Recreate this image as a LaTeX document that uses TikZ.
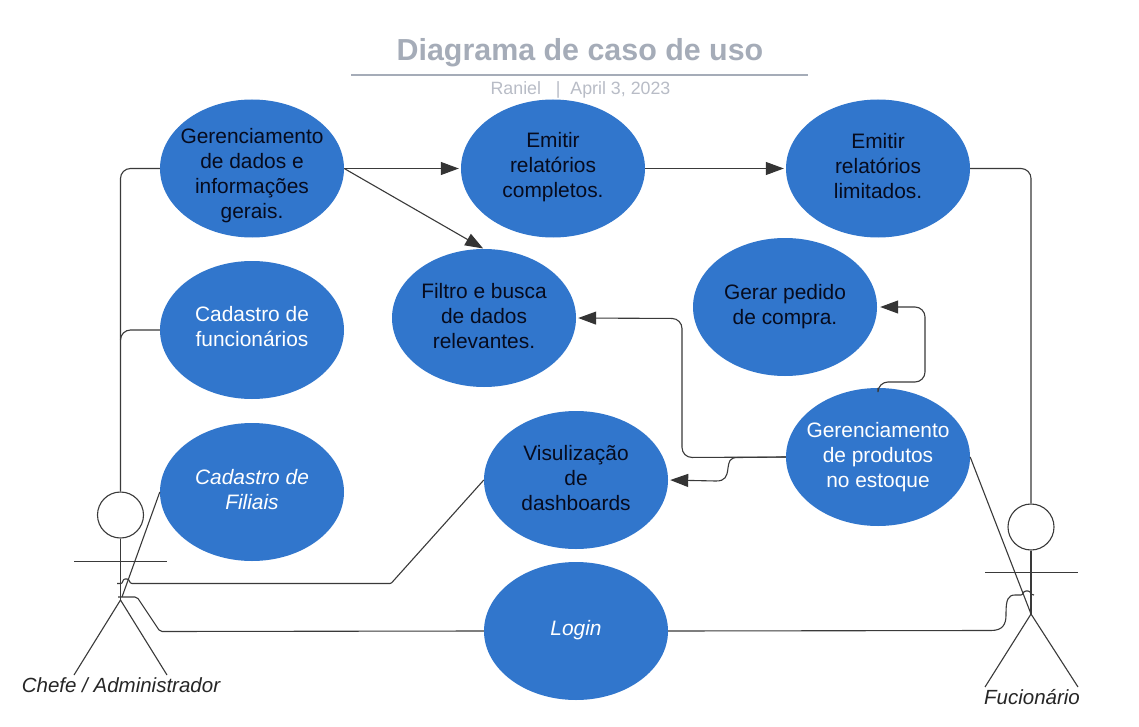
\documentclass[tikz,border=0pt]{standalone}
\usepackage{fontspec}
\setmainfont{Liberation Sans}
\usetikzlibrary{arrows.meta,calc,shapes.geometric}
\definecolor{ucblue}{HTML}{3176CC}
\definecolor{ink}{HTML}{3A3A3A}
\definecolor{titlegray}{HTML}{A5ACB8}
\definecolor{subgray}{HTML}{B8BCC6}
\definecolor{darktext}{HTML}{060B1E}
% text of a use case, moved down by #1, taking no room in its ellipse
\newcommand{\uctext}[2]{\raisebox{\dimexpr-5.2pt-#1\relax}[0pt][0pt]{\makebox[0pt]{\begin{tabular}{@{}c@{}}#2\end{tabular}}}}
\tikzset{
  usecase/.style={ellipse,fill=ucblue,draw=none,minimum width=184pt,minimum height=138pt,inner sep=0pt,
    font=\fontsize{20.9pt}{25pt}\selectfont},
  dark/.style={usecase,text=darktext},
  light/.style={usecase,text=white},
  conn/.style={draw=ink,line width=1.1pt,rounded corners=10pt},
  arrowconn/.style={conn,-{Triangle[length=18pt,width=13pt,color=ink!90!black]},shorten >=2pt},
  figure/.style={draw=ink,line width=1.1pt},
  head/.style={circle,draw=ink,line width=1.1pt,minimum size=46pt,inner sep=0pt},
  actorname/.style={font=\fontsize{20.5pt}{24pt}\selectfont\itshape,text=black!85},
}
\begin{document}
\begin{tikzpicture}[x=1pt,y=-1pt]
\useasboundingbox (0,0) rectangle (1139,727);
\fill[white] (0,0) rectangle (1139,727);
% title
\node[font=\fontsize{30.4pt}{34pt}\selectfont\bfseries,text=titlegray] (title) at (580,53) {Diagrama de caso de uso};
\coordinate (ruleL) at (351,75);
\coordinate (ruleR) at (808,75);
\draw[titlegray,line width=2pt] (ruleL) -- (ruleR);
\node[font=\fontsize{17.8pt}{20pt}\selectfont,text=subgray] (sub) at (580.5,90) {Raniel \ \ |\ \ April 3, 2023};
% use cases
\node[dark]  (A) at (252,168.5) {\uctext{7pt}{Gerenciamento\\de dados e\\informações\\gerais.}};
\node[dark]  (B) at (553,168.5) {\uctext{-1pt}{Emitir\\relatórios\\completos.}};
\node[dark]  (C) at (878,168.5) {\uctext{0pt}{Emitir\\relatórios\\limitados.}};
\node[light] (D) at (252,330) {\uctext{-1pt}{Cadastro de\\funcionários}};
\node[light,font=\fontsize{20.9pt}{25pt}\selectfont\itshape] (E) at (252,492) {\uctext{0pt}{Cadastro de\\Filiais}};
\node[dark]  (F) at (484,318) {\uctext{0pt}{Filtro e busca\\de dados\\relevantes.}};
\node[dark]  (G) at (785,307) {\uctext{0pt}{Gerar pedido\\de compra.}};
\node[light] (H) at (878,457) {\uctext{0pt}{Gerenciamento\\de produtos\\no estoque}};
\node[dark]  (I) at (576,480) {\uctext{0pt}{Visulização\\de\\dashboards}};
\node[light,font=\fontsize{20.9pt}{25pt}\selectfont\itshape] (J) at (576,631) {\uctext{-1pt}{Login}};
% left actor
\node[head] (LH) at (120.5,515) {};
\coordinate (Lhip) at (120.5,600);
\coordinate (LarmL) at (74,561.5);
\coordinate (LarmR) at (167,561.5);
\coordinate (LlegL) at (74,675);
\coordinate (LlegR) at (167,675);
\draw[figure] (LH.south) -- (Lhip);
\draw[figure] (LarmL) -- (LarmR);
\draw[figure] (LlegL) -- (Lhip) -- (LlegR);
\node[actorname] (Lname) at (121,685) {Chefe / Administrador};
% right actor
\node[head] (RH) at (1031,527) {};
\coordinate (Rhip) at (1031,614);
\coordinate (RarmL) at (985,572.5);
\coordinate (RarmR) at (1078,572.5);
\coordinate (RlegL) at (985,687);
\coordinate (RlegR) at (1078,687);
\draw[figure] (RH.south) -- (Rhip);
\draw[figure] (RarmL) -- (RarmR);
\draw[figure] (RlegL) -- (Rhip) -- (RlegR);
\node[actorname] (Rname) at (1032,697) {Fucionário};
% connectors to actors
\draw[conn] (A.west) -- (LH.north |- A.west) -- (LH.north);
\draw[conn] (D.west) -- (LH.north |- D.west) -- ([yshift=-10pt]LH.north |- D.west) ;
\coordinate (Ebody) at (122,597);
\draw[conn] (E.west) -- (Ebody);
\coordinate (Ihop) at (133,583.5);
\coordinate (Iend) at (117,583.5);
\draw[conn,rounded corners=1pt] (I.west) -- (391,583.5) -- (Ihop)
   .. controls (129,583.5) and (130,579) .. (126,579)
   .. controls (122.5,579) and (123,583.5) .. (120,583.5) -- (Iend);
\coordinate (Jend) at (118,597);
\draw[conn,rounded corners=2pt] (J.west) -- (160,631.5) -- (137,597) -- (Jend);
\coordinate (Jrend) at (1034,595);
\draw[conn,rounded corners=1pt] (J.east) -- (990,630.5)
   .. controls (1003,630.5) and (1006,624) .. (1006,614)
   .. controls (1006,600) and (1008,595) .. (1016,595)
   -- (1020,595) .. controls (1023,595) and (1023,591) .. (1027,591)
   .. controls (1031,591) and (1030,595) .. (Jrend);
\draw[conn] (H.east) -- (Rhip);
\draw[conn] (C.east) -- (RH.north |- C.east) -- (RH.north);
% arrows between use cases
\draw[arrowconn] (A.east) -- (B.west);
\draw[arrowconn,shorten >=1pt] (A.east) -- ($(F.center)+(0,-69)$);
\draw[arrowconn] (B.east) -- (C.west);
\coordinate (Hg) at (925,382);
\draw[arrowconn,shorten >=3pt] (H.north) -- (878,382) -- (Hg) -- (925,307) -- (G.east);
\draw[arrowconn] (H.west) -- (682,457.5) -- (682,318.5) -- (F.east);
\draw[draw=ink,line width=1.1pt,-{Triangle[length=18pt,width=13pt,color=ink!90!black]},shorten >=2pt] (H.west) -- (738,457.5)
   .. controls (729,457.5) and (729,462) .. (728,468)
   .. controls (727,477) and (725,481) .. (716,481) -- (I.east);
\end{tikzpicture}
\end{document}
